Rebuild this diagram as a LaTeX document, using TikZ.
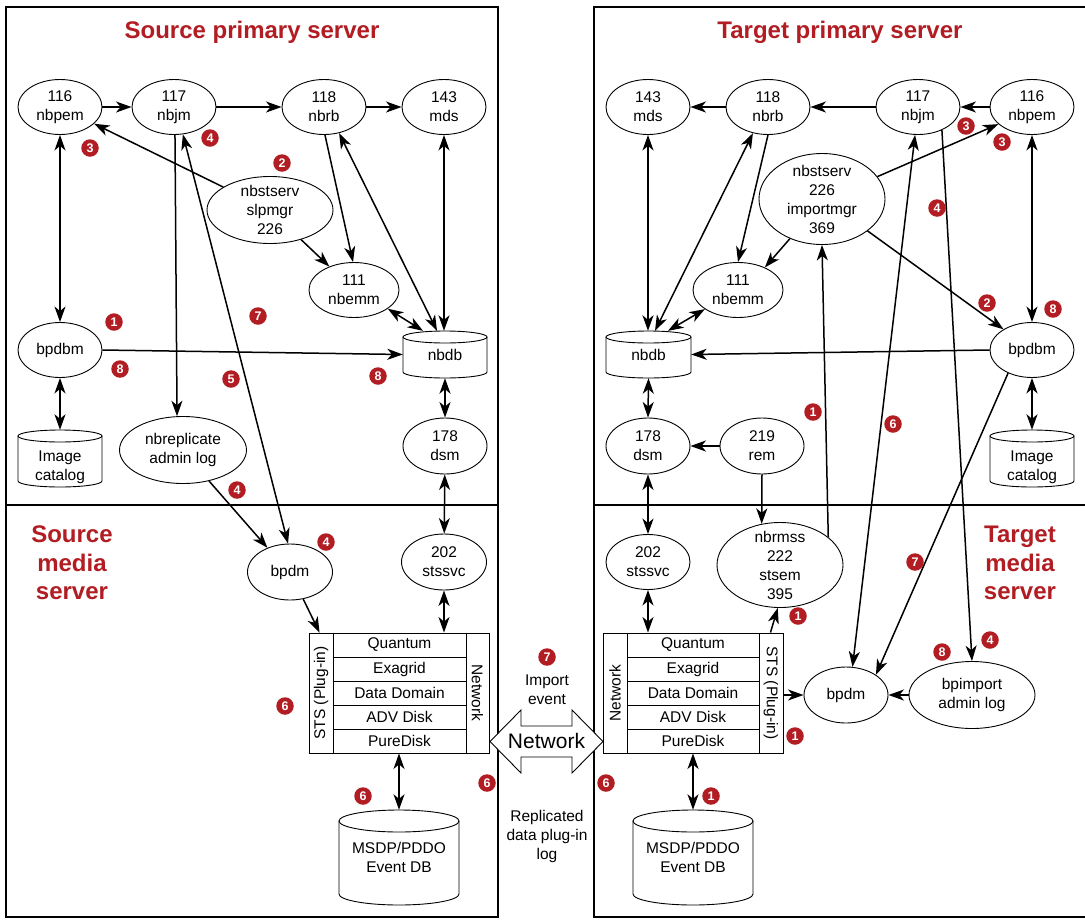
\documentclass[tikz,border=0pt]{standalone}
\usepackage{fontspec}
\setmainfont{Liberation Sans}
\usetikzlibrary{arrows.meta,shapes.geometric}
\definecolor{bred}{HTML}{B11D23}
\newcommand\drawcyl[5]{%
 \pgfmathsetmacro\cxa{(#1+#2)/2}%
 \pgfmathsetmacro\cax{(#2-#1)/2}%
 \pgfmathsetmacro\cyt{#3+#5}%
 \pgfmathsetmacro\cyb{#4-#5}%
 \pgfmathsetmacro\ck{0.5523*#5}%
 \pgfmathsetmacro\ckx{0.5523*\cax}%
 \draw[thinl] (\cxa,\cyt) ellipse [x radius=\cax pt, y radius=#5 pt];
 \draw[thinl] (#1,\cyt) -- (#1,\cyb) .. controls (#1,\cyb+\ck) and (\cxa-\ckx,#4) .. (\cxa,#4) .. controls (\cxa+\ckx,#4) and (#2,\cyb+\ck) .. (#2,\cyb) -- (#2,\cyt);
}
\begin{document}
\begin{tikzpicture}[x=1pt,y=-1pt,
  >={Stealth[length=15.5pt,width=11pt,inset=4.5pt]},
  thinl/.style={line width=0.9pt},
  frame/.style={line width=2pt},
  conn/.style={line width=1.5pt},
  ptxt/.style={font=\fontsize{15.5}{19}\selectfont, align=center, inner sep=0pt},
  proc/.style n args={3}{ellipse, draw, line width=0.9pt, fill=white, minimum width=#1, minimum height=#2, inner sep=0pt, label={[ptxt]center:#3}},
  cylbox/.style 2 args={inner sep=0pt, minimum width=#1, minimum height=#2},
  badge/.style={circle, fill=bred, text=white, font=\bfseries\fontsize{12.5}{12.5}\selectfont, minimum size=17.5pt, inner sep=0pt},
  title/.style={text=bred, font=\bfseries\fontsize{24}{28.5}\selectfont, align=center, inner sep=0pt}
]
\useasboundingbox (0,0) rectangle (1085,919);
\clip (0,0) rectangle (1085,919);
\fill[white] (0,0) rectangle (1085,919);

% frames
\draw[frame] (6,7) rectangle (498,917);
\draw[frame] (6,505) -- (498,505);
\draw[frame] (1100,7) -- (594,7) -- (594,917) -- (1100,917);
\draw[frame] (594,505) -- (1100,505);

% titles
\node[title, anchor=base] (tSP) at (252,38) {Source primary server};
\node[title, anchor=base] (tTP) at (840,38) {Target primary server};
\node[title] (tSM) at (72,563) {Source\\media\\server};
\node[title] (tTM) at (1020,563) {Target\\media\\server};

% ---------- left primary ----------
\node[proc={84pt}{55pt}{116\\nbpem}] (L116) at (60,107) {};
\node[proc={84pt}{55pt}{117\\nbjm}] (L117) at (174,107) {};
\node[proc={84pt}{55pt}{118\\nbrb}] (L118) at (324,107) {};
\node[proc={84pt}{55pt}{143\\mds}] (L143) at (444,107) {};
\node[proc={126pt}{67pt}{nbstserv\\slpmgr\\226}] (Lslp) at (270,210) {};
\node[proc={90pt}{55pt}{111\\nbemm}] (L111) at (354,290) {};
\node[proc={84pt}{55pt}{bpdbm}] (Lbpdbm) at (60,350) {};
\node[proc={127pt}{67pt}{nbreplicate\\admin log}] (Lrep) at (183,450) {};
\node[proc={84pt}{56pt}{178\\dsm}] (L178) at (445,446) {};

\node[cylbox={84pt}{47pt}] (Lnbdb) at (445,354.5) {};
\drawcyl{403}{487}{331}{378}{6}
\node[ptxt] (Lnbdbt) at (445,355) {nbdb};
\node[cylbox={84pt}{57pt}] (Limg) at (60,458.5) {};
\drawcyl{18}{102}{430}{487}{6}
\node[ptxt] (Limgt) at (60,467) {Image\\catalog};

% ---------- left media ----------
\node[proc={85pt}{56pt}{bpdm}] (Lbpdm) at (290,572) {};
\node[proc={85pt}{56pt}{202\\stssvc}] (L202) at (444,562) {};
\node[draw, line width=0.9pt, minimum width=180pt, minimum height=120pt, inner sep=0pt] (LSTS) at (399,693) {};
\draw[thinl] (333,633) -- (333,753) (466,633) -- (466,753);
\draw[thinl] (333,657) -- (466,657) (333,681) -- (466,681) (333,705) -- (466,705) (333,729) -- (466,729);
\node[ptxt] (Lq) at (399.5,645) {Quantum};
\node[ptxt] (Le) at (399.5,669) {Exagrid};
\node[ptxt] (Ld) at (399.5,693) {Data Domain};
\node[ptxt] (La) at (399.5,717) {ADV Disk};
\node[ptxt] (Lp) at (399.5,741) {PureDisk};
\node[ptxt, rotate=90] (Lsts) at (321,693) {STS (Plug-in)};
\node[ptxt, rotate=-90] (Lnet) at (477.5,693) {Network};
\node[cylbox={120pt}{95pt}] (Lmsdp) at (399,857.5) {};
\drawcyl{339}{459}{810}{905}{11}
\node[ptxt] (Lmsdpt) at (399,857) {MSDP/PDDO\\Event DB};

% ---------- right primary ----------
\node[proc={84pt}{55pt}{143\\mds}] (R143) at (648,107) {};
\node[proc={84pt}{55pt}{118\\nbrb}] (R118) at (768,107) {};
\node[proc={84pt}{55pt}{117\\nbjm}] (R117) at (918,107) {};
\node[proc={84pt}{55pt}{116\\nbpem}] (R116) at (1032,107) {};
\node[proc={126pt}{91pt}{nbstserv\\226\\importmgr\\369}] (Rimp) at (822,199) {};
\node[proc={90pt}{55pt}{111\\nbemm}] (R111) at (738,290) {};
\node[proc={84pt}{55pt}{bpdbm}] (Rbpdbm) at (1032,350) {};
\node[proc={84pt}{56pt}{178\\dsm}] (R178) at (648,446) {};
\node[proc={84pt}{56pt}{219\\rem}] (R219) at (762,446) {};

\node[cylbox={85pt}{47pt}] (Rnbdb) at (648.5,354.5) {};
\drawcyl{606}{691}{331}{378}{6}
\node[ptxt] (Rnbdbt) at (648.5,355) {nbdb};
\node[cylbox={84pt}{57pt}] (Rimg) at (1032,458.5) {};
\drawcyl{990}{1074}{430}{487}{6}
\node[ptxt] (Rimgt) at (1032,467) {Image\\catalog};

% ---------- right media ----------
\node[proc={84pt}{55pt}{202\\stssvc}] (R202) at (648,562) {};
\node[proc={126pt}{85pt}{nbrmss\\222\\stsem\\395}] (Rrms) at (780,565) {};
\node[proc={84pt}{56pt}{bpdm}] (Rbpdm) at (846,695) {};
\node[proc={126pt}{67pt}{bpimport\\admin log}] (Rbpi) at (972,695) {};
\node[draw, line width=0.9pt, minimum width=180pt, minimum height=120pt, inner sep=0pt] (RSTS) at (693,693) {};
\draw[thinl] (627,633) -- (627,753) (759,633) -- (759,753);
\draw[thinl] (627,657) -- (759,657) (627,681) -- (759,681) (627,705) -- (759,705) (627,729) -- (759,729);
\node[ptxt] (Rq) at (693,645) {Quantum};
\node[ptxt] (Re) at (693,669) {Exagrid};
\node[ptxt] (Rd) at (693,693) {Data Domain};
\node[ptxt] (Ra) at (693,717) {ADV Disk};
\node[ptxt] (Rp) at (693,741) {PureDisk};
\node[ptxt, rotate=90] (Rnet) at (615,693) {Network};
\node[ptxt, rotate=-90] (Rsts) at (771,693) {STS (Plug-in)};
\node[cylbox={120pt}{95pt}] (Rmsdp) at (693,857.5) {};
\drawcyl{633}{753}{810}{905}{11}
\node[ptxt] (Rmsdpt) at (693,857) {MSDP/PDDO\\Event DB};

% ---------- network arrow ----------
\draw[thinl, fill=white] (490,741.5) -- (521,710) -- (521,726) -- (572,726) -- (572,710) -- (603,741.5) -- (572,773) -- (572,757) -- (521,757) -- (521,773) -- cycle;
\node[font=\fontsize{21}{25}\selectfont, inner sep=0pt] (netl) at (546.5,741) {Network};
\node[ptxt] (impev) at (547,690) {Import\\event};
\node[ptxt] (replog) at (547,836) {Replicated\\data plug-in\\log};

% ---------- left connectors ----------
\draw[conn,->] (L116) -- (L117);
\draw[conn,->] (L117) -- (L118);
\draw[conn,->] (L118) -- (L143);
\draw[conn,->] (Lslp) -- (L116);
\draw[conn,->] (L117.-88) -- (Lrep.100);
\draw[conn,<->] (L117.-72) -- (Lbpdm.94);
\draw[conn,->] (Lrep.-50) -- (Lbpdm.133);
\draw[conn,->] (Lslp) -- (L111);
\draw[conn,->] (L118.-88) -- (L111.92);
\draw[conn,<->] (L118.-60) -- ([xshift=-8pt]Lnbdb.north);
\draw[conn,<->] (L143.south) -- (L143.south |- Lnbdb.north);
\draw[conn,<->] (L111.-29) -- ([xshift=-22pt]Lnbdb.north);
\draw[conn,<->] (L116) -- (Lbpdbm);
\draw[conn,->] (Lbpdbm.east) -- (Lnbdb.west);
\draw[conn,<->] (Lbpdbm) -- (Limg);
\draw[conn,<->] (Lnbdb.south) -- (L178.north);
\draw[conn,<->] (L178) -- (L202);
\draw[conn,<->] (L202.south) -- (L202.south |- LSTS.north);
\draw[conn,->] (Lbpdm.-64) -- ([xshift=11pt]LSTS.north west);
\draw[conn,<->] (LSTS.south) -- (Lmsdp.north);

% ---------- right connectors ----------
\draw[conn,->] (R116) -- (R117);
\draw[conn,->] (R117) -- (R118);
\draw[conn,->] (R118) -- (R143);
\draw[conn,<->] (R143.south) -- (R143.south |- Rnbdb.north);
\draw[conn,<->] (R118.-120) -- ([xshift=6.5pt]Rnbdb.north);
\draw[conn,->] (R118.south) -- (R111.north);
\draw[conn,->] (Rimp.-129) -- (R111.40);
\draw[conn,<->] (R111.-150) -- ([xshift=19.5pt]Rnbdb.north);
\draw[conn,->] (Rimp.22.7) -- (R116.-153);
\draw[conn,->] (Rimp.-35) -- (Rbpdbm.144);
\draw[conn,<->] (R116) -- (Rbpdbm);
\draw[conn,->] (Rbpdbm.west) -- (Rnbdb.east);
\draw[conn,<->] (Rbpdbm) -- (Rimg);
\draw[conn,<->] (Rnbdb.south) -- (R178.north);
\draw[conn,->] (R219) -- (R178);
\draw[conn,<->] (R178.south) -- (R202.north);
\draw[conn,<->] (R202.south) -- (R202.south |- RSTS.north);
\draw[conn,->] (R219.south) -- (Rrms.114);
\draw[conn,->] (Rrms.30) -- (Rimp.south);
\draw[conn,->] ([xshift=-13pt]RSTS.north east) -- (Rrms.-93);
\draw[conn,->] (Rbpdm.west -| RSTS.east) -- (Rbpdm.west);
\draw[conn,->] (Rbpi) -- (Rbpdm);
\draw[conn,->] (R117.-44) -- (Rbpi.north);
\draw[conn,<->] (Rbpdm.77) -- (R117.-96);
\draw[conn,->] (Rbpdbm.-136) -- (Rbpdm.34);
\draw[conn,<->] (RSTS.south) -- (Rmsdp.north);

% ---------- badges ----------
\node[badge] (b1) at (90,148) {3};
\node[badge] (b2) at (210,138) {4};
\node[badge] (b3) at (282,163) {2};
\node[badge] (b4) at (114,322) {1};
\node[badge] (b5) at (258,316) {7};
\node[badge] (b6) at (120,369) {8};
\node[badge] (b7) at (231,379) {5};
\node[badge] (b8) at (378,376) {8};
\node[badge] (b9) at (237,490) {4};
\node[badge] (b10) at (326,542) {4};
\node[badge] (b11) at (285,706) {6};
\node[badge] (b12) at (363,796) {6};
\node[badge] (b13) at (487,783) {6};
\node[badge] (b14) at (547,657) {7};
\node[badge] (b15) at (606,783) {6};
\node[badge] (b16) at (966,126) {3};
\node[badge] (b17) at (1002,142) {3};
\node[badge] (b18) at (937,208) {4};
\node[badge] (b19) at (987,303) {2};
\node[badge] (b20) at (1053,309) {8};
\node[badge] (b21) at (813,412) {1};
\node[badge] (b22) at (893,424) {6};
\node[badge] (b23) at (798,616) {1};
\node[badge] (b24) at (795,736) {1};
\node[badge] (b25) at (711,796) {1};
\node[badge] (b26) at (915,562) {7};
\node[badge] (b27) at (942,652) {8};
\node[badge] (b28) at (990,640) {4};
\end{tikzpicture}
\end{document}
